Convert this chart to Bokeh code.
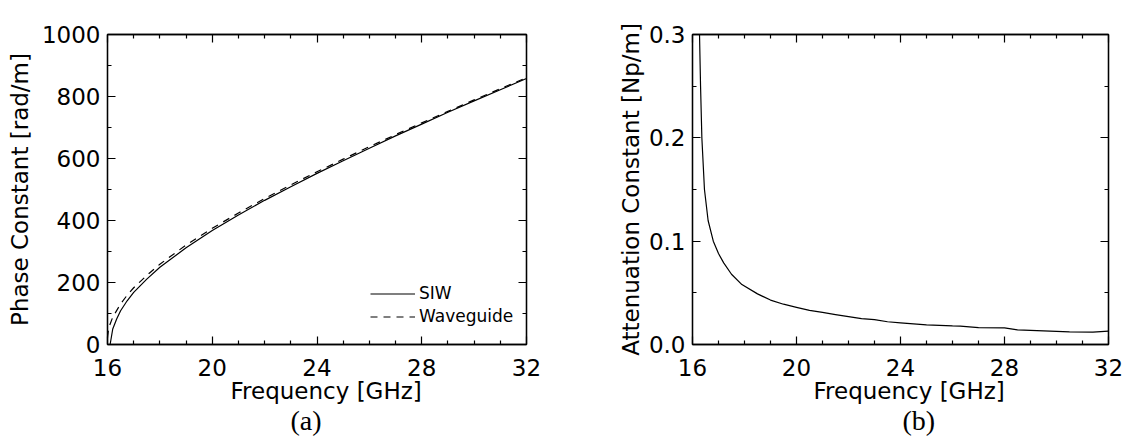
from bokeh.plotting import figure
from bokeh.models import (LinearAxis, Legend, LegendItem, Title, Range1d,
                          FixedTicker, PrintfTickFormatter)
from bokeh.layouts import row
from bokeh.embed import file_html
from bokeh.resources import INLINE

# ---------------- data ----------------
freq_ticks = [16, 20, 24, 28, 32]
phase_ticks = [0, 200, 400, 600, 800, 1000]
atten_ticks = [0.0, 0.1, 0.2, 0.3]

siw_freq = [16.10, 16.2, 16.35, 16.5, 16.75, 17.0, 17.5, 18, 19, 20, 21, 22,
            23, 24, 25, 26, 27, 28, 29, 30, 31, 32]
siw_beta = [0, 50, 82, 109, 141, 168, 211, 249, 312, 368, 418, 465,
            509, 552, 593, 633, 673, 711, 749, 786, 822, 858]

wg_freq = [16.0, 16.05, 16.2, 16.5, 16.75, 17.0, 17.5, 18, 19, 20, 21, 22,
           23, 24, 25, 26, 27, 28, 29, 30, 31, 32]
wg_beta = [22, 55, 88, 131, 159, 183, 223, 259, 321, 375, 424, 471,
           515, 557, 598, 638, 677, 715, 752, 789, 825, 861]

att_freq = [16.25, 16.27, 16.31, 16.36, 16.46, 16.6, 16.8, 17.0, 17.2, 17.5,
            17.9, 18.5, 19.0, 19.5, 20.0, 20.5, 21.0, 21.5, 22.0, 22.5, 23.0,
            23.5, 24.0, 25.0, 26.0, 26.3, 27.0, 28.0, 28.5, 29.5, 30.5, 31.4, 32.0]
att_alpha = [0.34, 0.30, 0.25, 0.20, 0.15, 0.12, 0.10, 0.088, 0.079, 0.068,
             0.058, 0.049, 0.043, 0.039, 0.036, 0.033, 0.031, 0.029, 0.027, 0.025, 0.024,
             0.022, 0.021, 0.019, 0.018, 0.0178, 0.0163, 0.016, 0.0141, 0.0132, 0.0122, 0.0119, 0.0129]

x_label = "Frequency [GHz]"
FONT = "DejaVu Sans"
HEIGHT = 440


def minors(ticks, n):
    out = []
    for a, b in zip(ticks[:-1], ticks[1:]):
        step = (b - a) / n
        out += [a + k * step for k in range(1, n)]
    return out


def style_axis(ax, ticks, n_minor, fmt, show, standoff):
    ax.ticker = FixedTicker(ticks=ticks, minor_ticks=minors(ticks, n_minor))
    ax.formatter = PrintfTickFormatter(format=fmt)
    ax.axis_line_color = "black"
    ax.axis_line_width = 1.3
    ax.major_tick_line_color = "black"
    ax.minor_tick_line_color = "black"
    ax.major_tick_line_width = 1.2
    ax.minor_tick_line_width = 1.2
    ax.major_tick_in = 8
    ax.major_tick_out = 0
    ax.minor_tick_in = 4
    ax.minor_tick_out = 0
    ax.major_label_text_font = FONT
    if show:
        ax.major_label_text_color = "black"
        ax.major_label_text_font_size = "23px"
        ax.major_label_standoff = standoff
    else:
        ax.major_label_text_color = None
        ax.major_label_text_font_size = "1px"
        ax.major_label_standoff = 0


def make_fig(width, y_range, yticks, y_minor, yfmt, ylabel, ylabel_standoff,
             min_left, min_right, xlab_offset, tag, tag_offset):
    p = figure(width=width, height=HEIGHT, x_range=Range1d(16, 32), y_range=y_range,
               output_backend="svg", toolbar_location=None,
               min_border_left=min_left, min_border_right=min_right,
               min_border_top=34, min_border_bottom=HEIGHT - 344,
               background_fill_color="white", border_fill_color="white")
    p.outline_line_color = "black"
    p.outline_line_width = 1.3
    p.xgrid.visible = False
    p.ygrid.visible = False

    p.add_layout(LinearAxis(), "above")
    p.add_layout(LinearAxis(), "right")
    for ax in p.below + p.above:
        if isinstance(ax, LinearAxis):
            style_axis(ax, freq_ticks, 4, "%d", ax in p.below, 14)
    for ax in p.left + p.right:
        if isinstance(ax, LinearAxis):
            style_axis(ax, yticks, y_minor, yfmt, ax in p.left, 7)

    yax = p.left[0]
    yax.axis_label = ylabel
    yax.axis_label_text_font = FONT
    yax.axis_label_text_font_size = "23px"
    yax.axis_label_text_font_style = "normal"
    yax.axis_label_text_color = "black"
    yax.axis_label_standoff = ylabel_standoff

    # x-axis title (placed as a below-title so it can sit slightly right of centre)
    p.add_layout(Title(text=x_label, align="left", offset=xlab_offset, standoff=-6,
                       vertical_align="bottom", text_font=FONT, text_font_size="23px",
                       text_font_style="normal", text_color="black"), "below")
    p.add_layout(Title(text=tag, align="left", offset=tag_offset, standoff=4,
                       vertical_align="bottom",
                       text_font="Liberation Serif", text_font_size="28px",
                       text_font_style="normal", text_color="black"), "below")
    return p


# ---------------- (a) phase constant ----------------
p1 = make_fig(560, Range1d(0, 1000), phase_ticks, 2, "%d",
              "Phase Constant [rad/m]", 6, 107, 34, 123, "(a)", 183)
r_siw = p1.line(siw_freq, siw_beta, line_color="black", line_width=1.2)
r_wg = p1.line(wg_freq, wg_beta, line_color="black", line_width=1.2, line_dash="7 6")

legend = Legend(items=[LegendItem(label="SIW", renderers=[r_siw]),
                       LegendItem(label="Waveguide", renderers=[r_wg])],
                location=(263, 18), border_line_color=None, background_fill_alpha=0,
                padding=0, margin=0, spacing=3, glyph_width=45, glyph_height=17,
                label_height=17, label_standoff=4, label_text_font=FONT,
                label_text_font_size="17px", label_text_color="black")
p1.add_layout(legend)

# ---------------- (b) attenuation constant ----------------
p2 = make_fig(564, Range1d(0, 0.3), atten_ticks, 2, "%.1f",
              "Attenuation Constant [Np/m]", 2, 132, 16, 121, "(b)", 210)
p2.line(att_freq, att_alpha, line_color="black", line_width=1.2)

layout = row(p1, p2)
open("out.html", "w").write(file_html(layout, INLINE))
